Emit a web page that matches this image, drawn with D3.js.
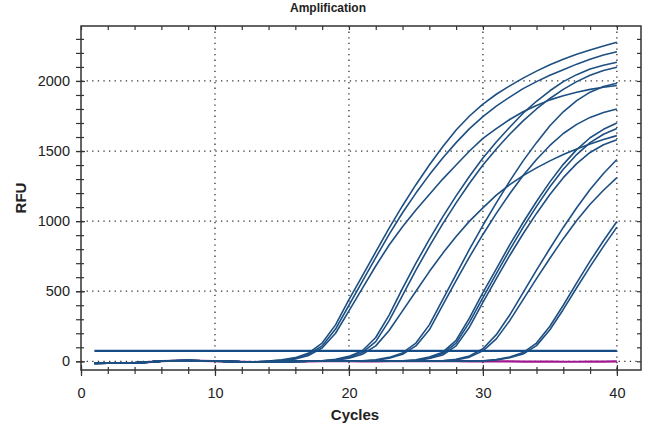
<!DOCTYPE html>
<html>
<head>
<meta charset="utf-8">
<script src="https://cdn.jsdelivr.net/npm/d3@7"></script>
<style>
  body { margin: 0; background: #fff; }
  text { font-family: "Liberation Sans", Arial, sans-serif; }
</style>
</head>
<body>
<div id="chart"></div>
<script>
// cycle numbers (x values)
const cycles = [1,2,3,4,5,6,7,8,9,10,11,12,13,14,15,16,17,18,19,20,
                21,22,23,24,25,26,27,28,29,30,31,32,33,34,35,36,37,38,39,40];

// RFU per cycle, one array per well
const wellA1 = [-15,-13,-12,-10,-5,1,4,5,3,2,0,-3,-4,2,10,26,60,130,260,440,610,780,950,1110,1260,1400,1530,1650,1750,1835,1905,1965,2020,2070,2115,2155,2190,2220,2250,2276];
const wellA2 = [-12,-14,-10,-12,-6,0,3,6,2,1,-1,-4,-5,2,8,20,50,110,230,400,570,740,905,1060,1200,1330,1450,1560,1660,1745,1820,1885,1945,1995,2040,2080,2120,2155,2185,2209];
const wellA3 = [-16,-12,-13,-11,-7,2,5,4,3,3,-1,-5,-4,-2,6,16,42,95,200,360,520,680,830,960,1080,1190,1300,1400,1500,1590,1660,1725,1780,1825,1865,1895,1920,1940,1955,1967];
const wellB1 = [-14,-13,-11,-12,-6,1,4,5,3,2,-1,-4,-5,-3,-1,0,1,4,14,35,75,170,330,520,700,870,1030,1180,1320,1450,1565,1670,1770,1855,1930,1995,2045,2085,2112,2133];
const wellB2 = [-13,-12,-12,-10,-5,2,4,4,2,1,-2,-4,-6,-3,-1,0,1,3,10,28,62,140,290,470,650,820,980,1130,1270,1400,1515,1620,1715,1800,1875,1940,1995,2040,2075,2098];
const wellB3 = [-15,-14,-11,-11,-7,0,3,5,3,2,0,-3,-5,-4,-2,-1,0,2,8,22,50,110,220,360,500,640,770,890,1000,1095,1185,1260,1325,1380,1430,1475,1515,1550,1582,1610];
const wellC1 = [-14,-12,-12,-11,-6,1,4,5,3,2,-1,-4,-5,-3,-2,-1,0,1,1,2,3,10,28,60,130,260,440,620,800,970,1130,1285,1430,1560,1680,1780,1860,1920,1960,1984];
const wellC2 = [-13,-13,-11,-12,-5,2,5,4,2,2,-1,-3,-5,-4,-2,-1,0,0,1,1,2,8,22,50,110,225,400,575,745,905,1055,1195,1325,1440,1540,1625,1690,1740,1775,1800];
const wellD1 = [-15,-13,-12,-10,-6,1,4,5,3,1,-1,-4,-5,-3,-2,-1,0,1,1,2,1,0,1,3,10,30,65,150,310,490,660,830,990,1140,1280,1405,1510,1595,1655,1700];
const wellD2 = [-14,-12,-13,-11,-6,0,3,5,3,2,0,-4,-4,-3,-2,0,0,1,2,1,1,0,1,2,8,24,55,130,280,455,625,795,955,1105,1245,1370,1475,1560,1620,1660];
const wellD3 = [-13,-14,-12,-11,-7,1,4,4,3,2,-1,-3,-5,-3,-1,-1,0,1,1,1,0,0,1,2,6,20,45,110,245,420,590,755,910,1055,1190,1310,1410,1490,1545,1580];
const wellE1 = [-15,-13,-11,-11,-6,1,4,5,3,2,-1,-4,-5,-3,-2,-1,0,1,1,1,0,0,1,1,2,2,4,14,38,90,190,330,490,650,805,955,1095,1225,1340,1440];
const wellE2 = [-14,-13,-12,-10,-5,2,4,4,2,2,-1,-4,-5,-3,-1,-1,0,0,1,1,1,0,1,2,1,2,3,10,30,75,160,290,440,590,735,875,1005,1120,1220,1310];
const wellF1 = [-14,-12,-12,-11,-6,1,4,5,3,2,-1,-4,-5,-3,-2,-1,0,1,1,1,0,0,1,1,1,2,1,1,2,3,12,30,62,130,250,400,560,715,860,997];
const wellF2 = [-15,-13,-11,-12,-6,0,4,5,3,2,-1,-3,-5,-4,-2,-1,0,1,0,1,1,0,1,1,2,1,1,2,1,2,10,25,52,112,225,370,525,675,820,957];
// negative control
const wellNTC = [-14,-12,-12,-11,-6,1,4,5,3,2,-1,-4,-5,-3,-2,-1,0,1,1,1,0,0,1,1,1,1,1,1,0,0,-1,-1,-2,-2,-2,-3,-3,-2,-2,-1];

const threshold = 75;

const samples = [wellA1, wellA2, wellA3, wellB1, wellB2, wellB3, wellC1, wellC2,
                 wellD1, wellD2, wellD3, wellE1, wellE2, wellF1, wellF2];

const xTicks = [0, 10, 20, 30, 40];
const yTicks = [0, 500, 1000, 1500, 2000];
const xMinor = d3.range(0, 42, 2);
const yMinor = d3.range(0, 2400, 100);

const width = 645, height = 430;
const marginTop = 26, marginRight = 4, marginBottom = 60, marginLeft = 81;

const x = d3.scaleLinear([0, 41.8], [marginLeft, width - marginRight]);
const y = d3.scaleLinear([-62, 2392], [height - marginBottom, marginTop]);

const svg = d3.create("svg")
    .attr("width", width)
    .attr("height", height)
    .attr("viewBox", [0, 0, width, height])
    .style("font-family", "'Liberation Sans', Arial, sans-serif");

// dotted grid
svg.append("g")
  .selectAll("line")
  .data(yTicks)
  .join("line")
    .attr("x1", marginLeft)
    .attr("x2", width - marginRight)
    .attr("y1", d => y(d))
    .attr("y2", d => y(d))
    .attr("stroke", "#333")
    .attr("stroke-width", 1.3)
    .attr("stroke-dasharray", "1.3,4.3");

svg.append("g")
  .selectAll("line")
  .data(xTicks.slice(1))
  .join("line")
    .attr("x1", d => x(d))
    .attr("x2", d => x(d))
    .attr("y1", marginTop)
    .attr("y2", height - marginBottom)
    .attr("stroke", "#333")
    .attr("stroke-width", 1.3)
    .attr("stroke-dasharray", "1.3,4.3");

const line = d3.line()
    .x((d, i) => x(cycles[i]))
    .y(d => y(d));

// negative control under the samples
svg.append("path")
    .attr("fill", "none")
    .attr("stroke", "#a0168e")
    .attr("stroke-width", 2.2)
    .attr("d", line(wellNTC));

svg.append("g")
  .selectAll("path")
  .data(samples)
  .join("path")
    .attr("fill", "none")
    .attr("stroke", "#1d4f82")
    .attr("stroke-width", 1.6)
    .attr("stroke-linejoin", "round")
    .attr("d", d => line(d));

// threshold line
svg.append("line")
    .attr("x1", x(cycles[0]))
    .attr("x2", x(cycles[cycles.length - 1]))
    .attr("y1", y(threshold))
    .attr("y2", y(threshold))
    .attr("stroke", "#154b86")
    .attr("stroke-width", 2.2);

// frame
svg.append("rect")
    .attr("x", marginLeft)
    .attr("y", marginTop)
    .attr("width", width - marginRight - marginLeft)
    .attr("height", height - marginBottom - marginTop)
    .attr("fill", "none")
    .attr("stroke", "#333")
    .attr("stroke-width", 1.5);

// bottom axis
svg.append("g")
    .attr("transform", `translate(0,${height - marginBottom})`)
    .call(d3.axisBottom(x).tickValues(xMinor).tickSize(4).tickFormat(""))
    .call(g => g.select(".domain").remove())
    .call(g => g.selectAll(".tick line").attr("y1", -3).attr("stroke", "#333").attr("stroke-width", 1.2));

svg.append("g")
    .attr("transform", `translate(0,${height - marginBottom})`)
    .call(d3.axisBottom(x).tickValues(xTicks).tickSize(6).tickPadding(12))
    .call(g => g.select(".domain").remove())
    .call(g => g.selectAll(".tick line").attr("y1", -5).attr("stroke", "#333").attr("stroke-width", 1.2))
    .call(g => g.selectAll(".tick text").attr("font-size", 14.5).attr("fill", "#222")
        .attr("font-family", "'Liberation Sans', Arial, sans-serif"));

// top frame ticks
svg.append("g")
    .attr("transform", `translate(0,${marginTop})`)
    .call(d3.axisBottom(x).tickValues(xMinor).tickSize(4).tickFormat(""))
    .call(g => g.select(".domain").remove())
    .call(g => g.selectAll(".tick line").attr("stroke", "#333").attr("stroke-width", 1.2));

// left axis
svg.append("g")
    .attr("transform", `translate(${marginLeft},0)`)
    .call(d3.axisLeft(y).tickValues(yMinor).tickSize(5).tickFormat(""))
    .call(g => g.select(".domain").remove())
    .call(g => g.selectAll(".tick line").attr("x1", 3).attr("stroke", "#333").attr("stroke-width", 1.2));

svg.append("g")
    .attr("transform", `translate(${marginLeft},0)`)
    .call(d3.axisLeft(y).tickValues(yTicks).tickSize(5).tickPadding(6).tickFormat(d3.format("d")))
    .call(g => g.select(".domain").remove())
    .call(g => g.selectAll(".tick line").attr("x1", 4).attr("stroke", "#333").attr("stroke-width", 1.2))
    .call(g => g.selectAll(".tick text").attr("font-size", 14.5).attr("fill", "#222")
        .attr("font-family", "'Liberation Sans', Arial, sans-serif"));

// right frame ticks
svg.append("g")
    .attr("transform", `translate(${width - marginRight},0)`)
    .call(d3.axisLeft(y).tickValues(yMinor).tickSize(4).tickFormat(""))
    .call(g => g.select(".domain").remove())
    .call(g => g.selectAll(".tick line").attr("stroke", "#333").attr("stroke-width", 1.2));

// titles
svg.append("text")
    .attr("x", 328)
    .attr("y", 12)
    .attr("text-anchor", "middle")
    .attr("font-size", 12)
    .attr("font-weight", "bold")
    .attr("fill", "#222")
    .text("Amplification");

svg.append("text")
    .attr("x", 355)
    .attr("y", 420)
    .attr("text-anchor", "middle")
    .attr("font-size", 15)
    .attr("font-weight", "bold")
    .attr("fill", "#222")
    .text("Cycles");

svg.append("text")
    .attr("transform", `translate(26,${(marginTop + height - marginBottom) / 2}) rotate(-90)`)
    .attr("text-anchor", "middle")
    .attr("font-size", 15)
    .attr("font-weight", "bold")
    .attr("fill", "#222")
    .text("RFU");

d3.select("#chart").append(() => svg.node());
</script>
</body>
</html>
